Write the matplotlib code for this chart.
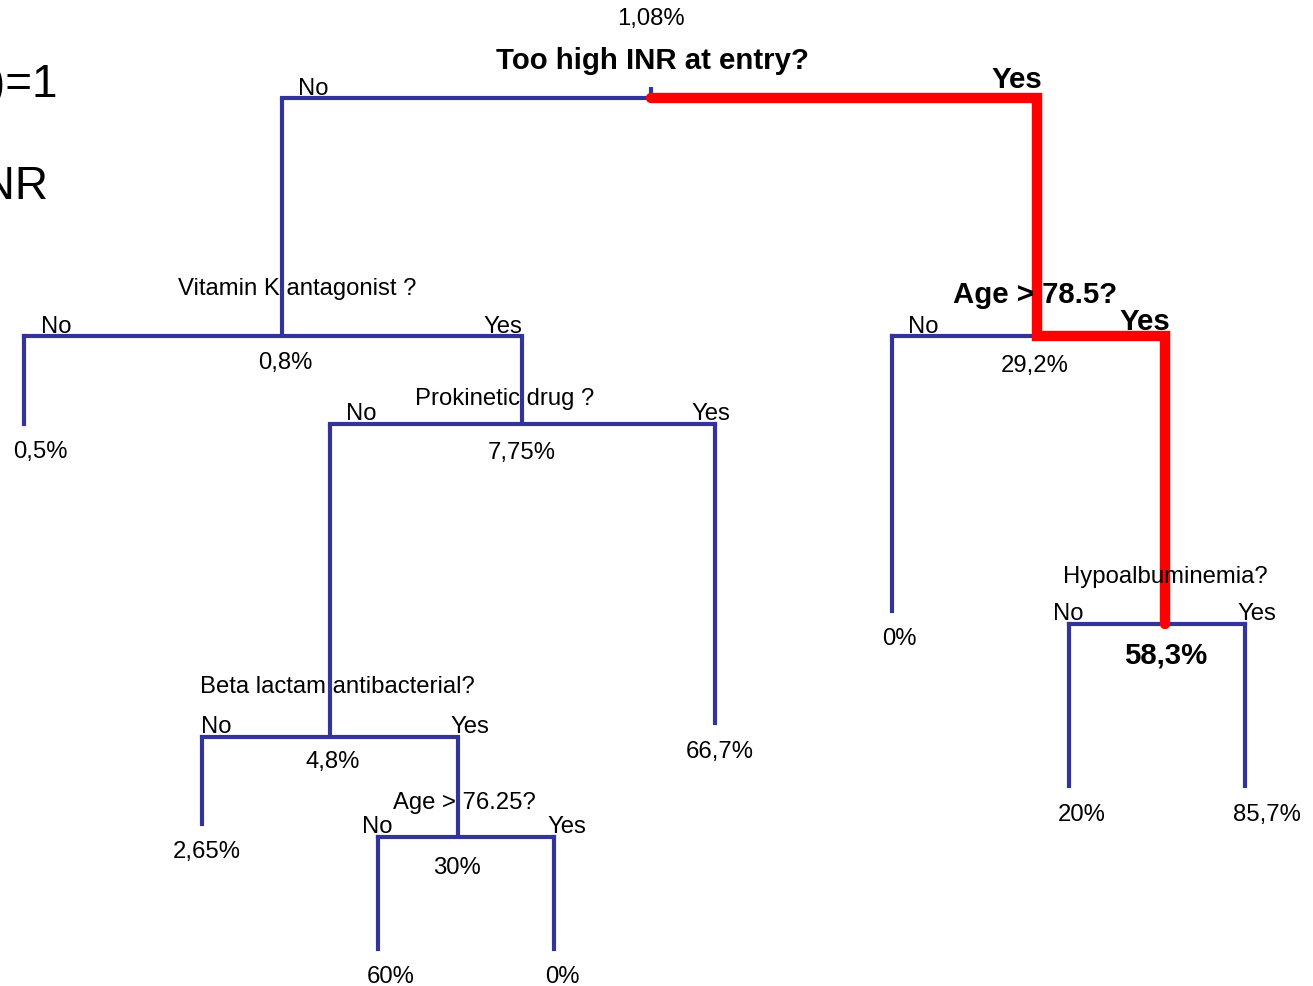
import matplotlib
matplotlib.use("Agg")
import matplotlib.pyplot as plt

plt.rcParams['font.family'] = ['Liberation Sans', 'DejaVu Sans']

# ---- data ----
questions = ["Too high INR at entry?", "Vitamin K antagonist ?", "Prokinetic drug ?",
             "Beta lactam antibacterial?", "Age > 76.25?", "Age > 78.5?", "Hypoalbuminemia?"]
question_bold = [True, False, False, False, False, True, False]
split_pct = [1.08, 0.8, 7.75, 4.8, 30, 29.2, 58.3]
leaf_pct = [0.5, 66.7, 2.65, 60, 0, 0, 20, 85.7]
branch_labels = ["No", "Yes"]
side_texts = ["(Y=1)=1", "INR"]

def fmt(v):
    return f"{v:g}".replace(".", ",") + "%"

# ---- layout (pixel space) ----
W, H = 1313, 987
BLUE = "#333399"
RED = "#ff0000"

fig = plt.figure(figsize=(W / 100, H / 100), dpi=100)
ax = fig.add_axes([0, 0, 1, 1])
ax.set_xlim(0, W)
ax.set_ylim(H, 0)
ax.axis("off")

# splits: (bar y, bar x left, bar x right, stem x, question pos, pct pos, No pos, Yes pos, yes bold)
splits = [
    (99, 282, 1037, 651, (652, 61), (651, 19), (298, 89, 'left'), (1017, 80, 'center'), True),
    (337, 24, 522, 282, (297, 289), (285, 363), (41, 327, 'left'), (503, 327, 'center'), False),
    (425, 330, 715, 522, (505, 399), (522, 453), (346, 414, 'left'), (711, 414, 'center'), False),
    (738, 202, 458, 330, (337, 687), (333, 762), (201, 727, 'left'), (470, 727, 'center'), False),
    (838, 378, 554, 458, (464, 803), (457, 868), (362, 827, 'left'), (567, 827, 'center'), False),
    (337, 892, 1165, 1037, (1035, 295), (1035, 366), (908, 327, 'left'), (1145, 322, 'center'), True),
    (625, 1069, 1245, 1165, (1165, 577), (1166, 655), (1068, 614, 'center'), (1257, 614, 'center'), False),
]
# leaves: (stem x, top y, bottom y, label pos)
leaves = [
    (24, 337, 425, (40, 452)),
    (715, 425, 724, (720, 752)),
    (202, 738, 825, (207, 852)),
    (378, 838, 950, (391, 977)),
    (554, 838, 950, (562, 977)),
    (892, 337, 612, (899, 639)),
    (1069, 625, 787, (1082, 815)),
    (1245, 625, 787, (1267, 815)),
]
# vertical connectors from parent bar to child bar: (x, y0, y1)
connectors = [(282, 99, 337), (522, 337, 425), (330, 425, 738), (458, 738, 838)]

lw_blue = 3.0
FS = 17.2
FSB = 21.2

# blue bars
for (by, xl, xr, sx, qp, pp, nop, yep, yb) in splits:
    ax.plot([xl, xr], [by, by], color=BLUE, lw=lw_blue, solid_capstyle='projecting')
ax.plot([651, 651], [88, 99], color=BLUE, lw=lw_blue, solid_capstyle='butt')
for (x, y0, y1) in connectors:
    ax.plot([x, x], [y0, y1], color=BLUE, lw=lw_blue, solid_capstyle='butt')
for (x, y0, y1, lp) in leaves:
    ax.plot([x, x], [y0, y1], color=BLUE, lw=lw_blue, solid_capstyle='projecting')

# red highlighted path
ax.plot([651, 1037, 1037, 1165, 1165], [99, 99, 337, 337, 625], color=RED, lw=7.5,
        solid_capstyle='round', solid_joinstyle='miter')

# texts for splits
for i, (by, xl, xr, sx, qp, pp, nop, yep, yb) in enumerate(splits):
    ax.text(qp[0], qp[1], questions[i], ha='center', va='center',
            fontsize=FSB if question_bold[i] else FS,
            fontweight='bold' if question_bold[i] else 'normal')
    pct_bold = (i == 6)
    ax.text(pp[0], pp[1], fmt(split_pct[i]), ha='center', va='center',
            fontsize=FSB if pct_bold else FS, fontweight='bold' if pct_bold else 'normal')
    ax.text(nop[0], nop[1], branch_labels[0], ha=nop[2], va='center', fontsize=FS)
    ax.text(yep[0], yep[1], branch_labels[1], ha=yep[2], va='center',
            fontsize=FSB if yb else FS, fontweight='bold' if yb else 'normal')

for j, (x, y0, y1, lp) in enumerate(leaves):
    ax.text(lp[0], lp[1], fmt(leaf_pct[j]), ha='center', va='center', fontsize=FS)

# partially visible side texts
ax.text(58, 85, side_texts[0], ha='right', va='center', fontsize=33)
ax.text(49, 187, side_texts[1], ha='right', va='center', fontsize=33)

fig.savefig("out.png", dpi=100)
